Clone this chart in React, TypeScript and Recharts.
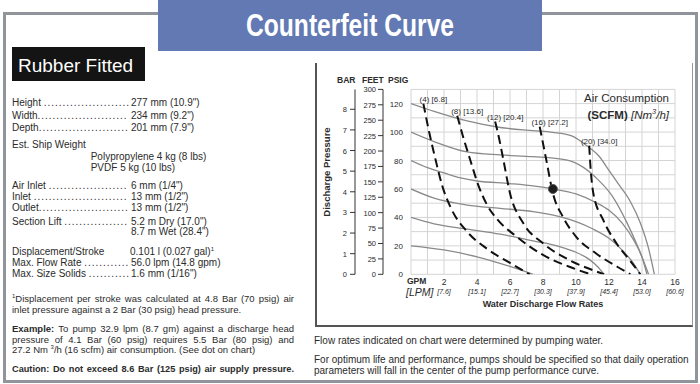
import React from 'react'
import { ComposedChart, Line, XAxis, YAxis, CartesianGrid, ReferenceDot } from 'recharts'

type Pt = { gpm: number; psi: number }

// axes
const gpmGrid = [0, 1, 2, 3, 4, 5, 6, 7, 8, 9, 10, 11, 12, 13, 14, 15, 16]
const gpmLabels = [2, 4, 6, 8, 10, 12, 14, 16]
const lpmLabels = ['7.6', '15.1', '22.7', '30.3', '37.9', '45.4', '53.0', '60.6']
const psiGrid = [0, 10, 20, 30, 40, 50, 60, 70, 80, 90, 100, 110, 120, 130]
const psiLabels = [0, 20, 40, 60, 80, 100, 120]
const barTicks = [0, 1, 2, 3, 4, 5, 6, 7, 8]
const feetTicks = [0, 25, 50, 75, 100, 125, 150, 175, 200, 225, 250, 275, 300]

// air inlet pressure curves (psig)
const air20: Pt[] = [
  { gpm: 0, psi: 20 }, { gpm: 2, psi: 17.1 }, { gpm: 4, psi: 12.3 }, { gpm: 6, psi: 5.5 }, { gpm: 7.4, psi: 0 },
]
const air40: Pt[] = [
  { gpm: 0, psi: 40 }, { gpm: 1.4, psi: 35.5 }, { gpm: 3.4, psi: 31.8 }, { gpm: 5.4, psi: 28.2 },
  { gpm: 7.4, psi: 23.5 }, { gpm: 9, psi: 19.5 }, { gpm: 10, psi: 15.5 }, { gpm: 10.8, psi: 10.5 },
  { gpm: 11.3, psi: 5.5 }, { gpm: 11.7, psi: 0 },
]
const air60: Pt[] = [
  { gpm: 0, psi: 60 }, { gpm: 1.4, psi: 53.5 }, { gpm: 3.4, psi: 48.7 }, { gpm: 5.4, psi: 46.4 },
  { gpm: 7.4, psi: 44 }, { gpm: 9, psi: 40.5 }, { gpm: 10, psi: 37 }, { gpm: 11, psi: 32 },
  { gpm: 12, psi: 25.3 }, { gpm: 12.8, psi: 17 }, { gpm: 13.4, psi: 9 }, { gpm: 13.9, psi: 0 },
]
const air80: Pt[] = [
  { gpm: 0, psi: 80 }, { gpm: 1, psi: 75 }, { gpm: 2, psi: 71.3 }, { gpm: 3, psi: 67.8 },
  { gpm: 4, psi: 65.6 }, { gpm: 6, psi: 63.8 }, { gpm: 7.5, psi: 62 }, { gpm: 8.6, psi: 60 },
  { gpm: 10, psi: 56.5 }, { gpm: 11.2, psi: 50.5 }, { gpm: 12, psi: 45 }, { gpm: 12.8, psi: 36 },
  { gpm: 13.5, psi: 24 }, { gpm: 14, psi: 12 }, { gpm: 14.3, psi: 0 },
]
const air100: Pt[] = [
  { gpm: 0, psi: 100 }, { gpm: 1.4, psi: 93.3 }, { gpm: 3.4, psi: 86 }, { gpm: 5.4, psi: 83.9 },
  { gpm: 7.4, psi: 82.7 }, { gpm: 9.4, psi: 80.4 }, { gpm: 10.4, psi: 75.5 }, { gpm: 11.2, psi: 68 },
  { gpm: 12.2, psi: 55 }, { gpm: 13.1, psi: 36 }, { gpm: 13.8, psi: 18 }, { gpm: 14.4, psi: 0 },
]
const air120: Pt[] = [
  { gpm: 0, psi: 120 }, { gpm: 1.4, psi: 114.5 }, { gpm: 3.4, psi: 107.8 }, { gpm: 5.4, psi: 103.2 },
  { gpm: 7.4, psi: 101 }, { gpm: 8.6, psi: 99.8 }, { gpm: 9.7, psi: 97.5 }, { gpm: 10.7, psi: 90 },
  { gpm: 11.4, psi: 83 }, { gpm: 12, psi: 73 }, { gpm: 12.6, psi: 63 }, { gpm: 13.3, psi: 51 },
  { gpm: 13.9, psi: 36 }, { gpm: 14.4, psi: 18 }, { gpm: 14.75, psi: 0 },
]
const airCurves = [air20, air40, air60, air80, air100, air120]

// air consumption lines (scfm)
const scfm4: Pt[] = [
  { gpm: 0.75, psi: 120 }, { gpm: 1.1, psi: 100 }, { gpm: 1.5, psi: 80 }, { gpm: 1.9, psi: 62 },
  { gpm: 2.4, psi: 47 }, { gpm: 3.4, psi: 30 }, { gpm: 4.6, psi: 18 }, { gpm: 6, psi: 8 }, { gpm: 7.2, psi: 0 },
]
const scfm8: Pt[] = [
  { gpm: 2.8, psi: 111.5 }, { gpm: 3.2, psi: 95 }, { gpm: 3.6, psi: 80 }, { gpm: 4.1, psi: 62 },
  { gpm: 4.6, psi: 49 }, { gpm: 5.2, psi: 39 }, { gpm: 6.4, psi: 26.5 }, { gpm: 8, psi: 13.6 },
  { gpm: 9.6, psi: 5.3 }, { gpm: 10.9, psi: 0 },
]
const scfm12: Pt[] = [
  { gpm: 5.1, psi: 107.4 }, { gpm: 5.35, psi: 95 }, { gpm: 5.6, psi: 80.4 }, { gpm: 6, psi: 57 },
  { gpm: 6.8, psi: 36 }, { gpm: 8, psi: 21.8 }, { gpm: 9.6, psi: 10 }, { gpm: 11, psi: 3 }, { gpm: 11.7, psi: 0 },
]
const scfm16: Pt[] = [
  { gpm: 7.8, psi: 103.8 }, { gpm: 8.2, psi: 80.4 }, { gpm: 8.6, psi: 57 }, { gpm: 9.2, psi: 40.5 },
  { gpm: 10, psi: 26.5 }, { gpm: 11.2, psi: 14.8 }, { gpm: 12.5, psi: 5.3 }, { gpm: 13.3, psi: 0 },
]
const scfm20: Pt[] = [
  { gpm: 10.8, psi: 90.5 }, { gpm: 10.85, psi: 80.4 }, { gpm: 11.05, psi: 57 }, { gpm: 11.65, psi: 38.2 },
  { gpm: 12.45, psi: 21.8 }, { gpm: 13.25, psi: 10 }, { gpm: 13.9, psi: 0 },
]
const scfmLines = [scfm4, scfm8, scfm12, scfm16, scfm20]
const scfmNames = ['(4) [6.8]', '(8) [13.6]', '(12) [20.4]', '(16) [27.2]', '(20) [34.0]']

const examplePoint = { gpm: 8.6, psi: 60 }

const sans = "'Liberation Sans', Arial, Helvetica, sans-serif"
const ink = '#2b2b2b'

function GpmTick(props: any) {
  const { x, y, payload } = props
  const i = gpmLabels.indexOf(payload.value)
  if (i < 0) return <g />
  return (
    <g>
      <text x={x} y={y + 11} textAnchor="middle" fontSize={8.5} fill={ink}>{payload.value}</text>
      <text x={x} y={y + 19.5} textAnchor="middle" fontSize={7} fontStyle="italic" fill={ink}>[{lpmLabels[i]}]</text>
    </g>
  )
}

function PsiTick(props: any) {
  const { x, y, payload } = props
  if (!psiLabels.includes(payload.value)) return <g />
  return <text x={x} y={y + 3} textAnchor="end" fontSize={8} fill={ink}>{payload.value}</text>
}

function SideTick(props: any) {
  const { x, y, payload } = props
  return <text x={x} y={y + 3} textAnchor="end" fontSize={7.5} fill={ink}>{payload.value}</text>
}

function ScfmLabel(name: string) {
  return (p: any) => (
    <text x={p.cx + 10} y={p.cy - 1.5} textAnchor="middle" fontSize={8} fill={ink}>{name}</text>
  )
}

let measureCtx: CanvasRenderingContext2D | null = null
function textWidth(s: string) {
  if (!measureCtx) measureCtx = document.createElement('canvas').getContext('2d')
  if (!measureCtx) return s.length * 5
  measureCtx.font = "10px 'Liberation Sans'"
  return measureCtx.measureText(s).width
}

// label, dotted leader up to the value column
function Spec({ top, label, value }: { top: number; label: string; value: string }) {
  const n = Math.max(0, Math.floor((118 - textWidth(label)) / 3.75))
  return (
    <>
      <div style={{ position: 'absolute', left: 12, top, whiteSpace: 'nowrap' }}>
        {label}<span style={{ letterSpacing: '0.97px' }}>{'.'.repeat(n)}</span>
      </div>
      <div style={{ position: 'absolute', left: 131, top, whiteSpace: 'nowrap' }}>{value}</div>
    </>
  )
}

function Txt({ left, top, children, style }: { left: number; top: number; children: React.ReactNode; style?: React.CSSProperties }) {
  return <div style={{ position: 'absolute', left, top, whiteSpace: 'nowrap', ...style }}>{children}</div>
}

function JLine({ top, children, style }: { top: number; children: React.ReactNode; style?: React.CSSProperties }) {
  return (
    <div style={{ position: 'absolute', left: 12, top, width: 282, fontSize: 9.5, textAlign: 'justify', textAlignLast: 'justify', ...style }}>
      {children}
    </div>
  )
}

export default function App() {
  return (
    <div style={{ position: 'absolute', left: 0, top: 0, width: 700, height: 384, background: '#fff', overflow: 'hidden', fontFamily: sans, fontSize: 10, lineHeight: '12px', color: ink }}>
      {/* outer frame */}
      <div style={{ position: 'absolute', left: 3, top: 12, width: 695, height: 371, boxSizing: 'border-box', border: '3px solid #8f959a' }} />

      {/* title */}
      <div style={{ position: 'absolute', left: 158, top: 0, width: 384, height: 51, background: '#6279b3' }}>
        <div style={{ position: 'absolute', left: 0, top: 0, width: 384, textAlign: 'center', color: '#fff', fontWeight: 'bold', fontSize: 32, lineHeight: '50px', transform: 'scaleX(0.77)', whiteSpace: 'nowrap' }}>
          Counterfeit Curve
        </div>
      </div>

      {/* left panel */}
      <div style={{ position: 'absolute', left: 12, top: 47, width: 133, height: 34, background: '#141414', color: '#fff', fontSize: 19, lineHeight: '38px', paddingLeft: 6, boxSizing: 'border-box' }}>
        Rubber Fitted
      </div>
      <Spec top={97.3} label="Height " value={'277 mm (10.9")'} />
      <Spec top={109.7} label="Width" value={'234 mm (9.2")'} />
      <Spec top={122.3} label="Depth" value={'201 mm (7.9")'} />
      <Txt left={12} top={139}>Est. Ship Weight</Txt>
      <Txt left={90.7} top={151.3}>Polypropylene 4 kg (8 lbs)</Txt>
      <Txt left={90.7} top={162.3}>PVDF 5 kg (10 lbs)</Txt>
      <Spec top={180} label="Air Inlet " value={'6 mm (1/4")'} />
      <Spec top={191} label="Inlet " value={'13 mm (1/2")'} />
      <Spec top={201.7} label="Outlet" value={'13 mm (1/2")'} />
      <Spec top={215.7} label="Section Lift " value={'5.2 m Dry (17.0")'} />
      <Txt left={131} top={226.3}>8.7 m Wet (28.4")</Txt>
      <Txt left={12} top={245.7}>Displacement/Stroke</Txt>
      <Txt left={130} top={245.7}>0.101 l (0.027 gal)<sup style={{ fontSize: 6, lineHeight: 0 }}>1</sup></Txt>
      <Spec top={256.7} label="Max. Flow Rate " value="56.0 lpm (14.8 gpm)" />
      <Spec top={268} label="Max. Size Solids " value={'1.6 mm (1/16")'} />

      <JLine top={293.3}><sup style={{ fontSize: 6, lineHeight: 0 }}>1</sup>Displacement per stroke was calculated at 4.8 Bar (70 psig) air</JLine>
      <Txt left={12} top={304} style={{ fontSize: 9.5 }}>inlet pressure against a 2 Bar (30 psig) head pressure.</Txt>
      <JLine top={323.3}><b>Example:</b> To pump 32.9 lpm (8.7 gm) against a discharge head</JLine>
      <JLine top={333.7}>pressure of 4.1 Bar (60 psig) requires 5.5 Bar (80 psig) and</JLine>
      <Txt left={12} top={344} style={{ fontSize: 9.5 }}>27.2 Nm <sup style={{ fontSize: 6, lineHeight: 0 }}>3</sup>/h (16 scfm) air consumption. (See dot on chart)</Txt>
      <JLine top={363.3} style={{ fontWeight: 'bold', fontSize: 9.2 }}>Caution: Do not exceed 8.6 Bar (125 psig) air supply pressure.</JLine>

      {/* chart box */}
      <div style={{ position: 'absolute', left: 315, top: 63, width: 378, height: 264, boxSizing: 'border-box', borderLeft: '2px solid #555', borderBottom: '2px solid #555', borderRight: '1px solid #999' }} />

      <div style={{ position: 'absolute', left: 315, top: 63 }}>
        <ComposedChart width={378} height={264} margin={{ top: 26.4, right: 18, bottom: 12.7, left: 5 }} style={{ fontFamily: sans }}>
          <CartesianGrid yAxisId="apsi" stroke="#d4d4d4" strokeWidth={1} />
          <XAxis dataKey="gpm" type="number" domain={[0, 16]} ticks={gpmGrid} interval={0} allowDataOverflow
            axisLine={false} tickLine={false} tickSize={0} tickMargin={0} height={40} tick={<GpmTick />} />
          <YAxis yAxisId="apsi" type="number" domain={[0, 130]} ticks={psiGrid} interval={0} allowDataOverflow
            width={28} axisLine={false} tickLine={false} tickSize={0} tickMargin={8} tick={<PsiTick />} />
          <YAxis yAxisId="bfeet" type="number" domain={[0, 300]} ticks={feetTicks} interval={0} allowDataOverflow
            width={28} axisLine={{ stroke: '#333' }} tickLine={{ stroke: '#333' }} tickSize={5} tickMargin={2} tick={<SideTick />} />
          <YAxis yAxisId="cbar" type="number" domain={[0, 130 / 14.5038]} ticks={barTicks} interval={0} allowDataOverflow
            width={35} axisLine={{ stroke: '#333' }} tickLine={{ stroke: '#333' }} tickSize={5} tickMargin={3} tick={<SideTick />} />

          {airCurves.map((d, i) => (
            <Line key={'air' + i} data={d} dataKey="psi" yAxisId="apsi" type="monotone" stroke="#8a8a8a"
              strokeWidth={1.3} dot={false} activeDot={false} isAnimationActive={false} />
          ))}
          {scfmLines.map((d, i) => (
            <Line key={'scfm' + i} data={d} dataKey="psi" yAxisId="apsi" type="monotone" stroke="#111"
              strokeWidth={2} strokeDasharray="9 5" dot={false} activeDot={false} isAnimationActive={false} />
          ))}
          {scfmLines.map((d, i) => (
            <ReferenceDot key={'lab' + i} yAxisId="apsi" x={d[0].gpm} y={d[0].psi} r={0} shape={ScfmLabel(scfmNames[i])} />
          ))}
          <ReferenceDot yAxisId="apsi" x={examplePoint.gpm} y={examplePoint.psi} r={4.5} fill="#1e1e1e" stroke="#555" strokeWidth={1} />
        </ComposedChart>
      </div>

      {/* chart texts */}
      <div style={{ position: 'absolute', left: 327, top: 172, transform: 'translate(-50%, -50%) rotate(-90deg)', fontWeight: 'bold', fontSize: 9.5, whiteSpace: 'nowrap' }}>Discharge Pressure</div>
      <Txt left={337} top={74} style={{ fontWeight: 'bold', fontSize: 8.5 }}>BAR</Txt>
      <Txt left={362} top={74} style={{ fontWeight: 'bold', fontSize: 8.5 }}>FEET</Txt>
      <Txt left={388} top={74} style={{ fontWeight: 'bold', fontSize: 8.5 }}>PSIG</Txt>
      <Txt left={407} top={277} style={{ fontWeight: 'bold', fontSize: 8.5, lineHeight: '8px' }}>GPM</Txt>
      <Txt left={406} top={287} style={{ fontStyle: 'italic', fontSize: 10.5, lineHeight: '10px' }}>[LPM]</Txt>
      <div style={{ position: 'absolute', left: 543, top: 298, transform: 'translateX(-50%)', fontWeight: 'bold', fontSize: 9, whiteSpace: 'nowrap' }}>Water Discharge Flow Rates</div>
      <div style={{ position: 'absolute', right: 700 - 669, top: 90, textAlign: 'right', fontSize: 11.5, lineHeight: '17px', whiteSpace: 'nowrap' }}>
        Air Consumption<br />
        <b>(SCFM)</b> <i>[Nm<sup style={{ fontSize: 7.5, lineHeight: 0 }}>3</sup>/h]</i>
      </div>

      <Txt left={314} top={335} style={{ fontSize: 10 }}>Flow rates indicated on chart were determined by pumping water.</Txt>
      <Txt left={314} top={355} style={{ fontSize: 10, lineHeight: '10.5px' }}>
        For optimum life and performance, pumps should be specified so that daily operation<br />
        parameters will fall in the center of the pump performance curve.
      </Txt>
    </div>
  )
}
